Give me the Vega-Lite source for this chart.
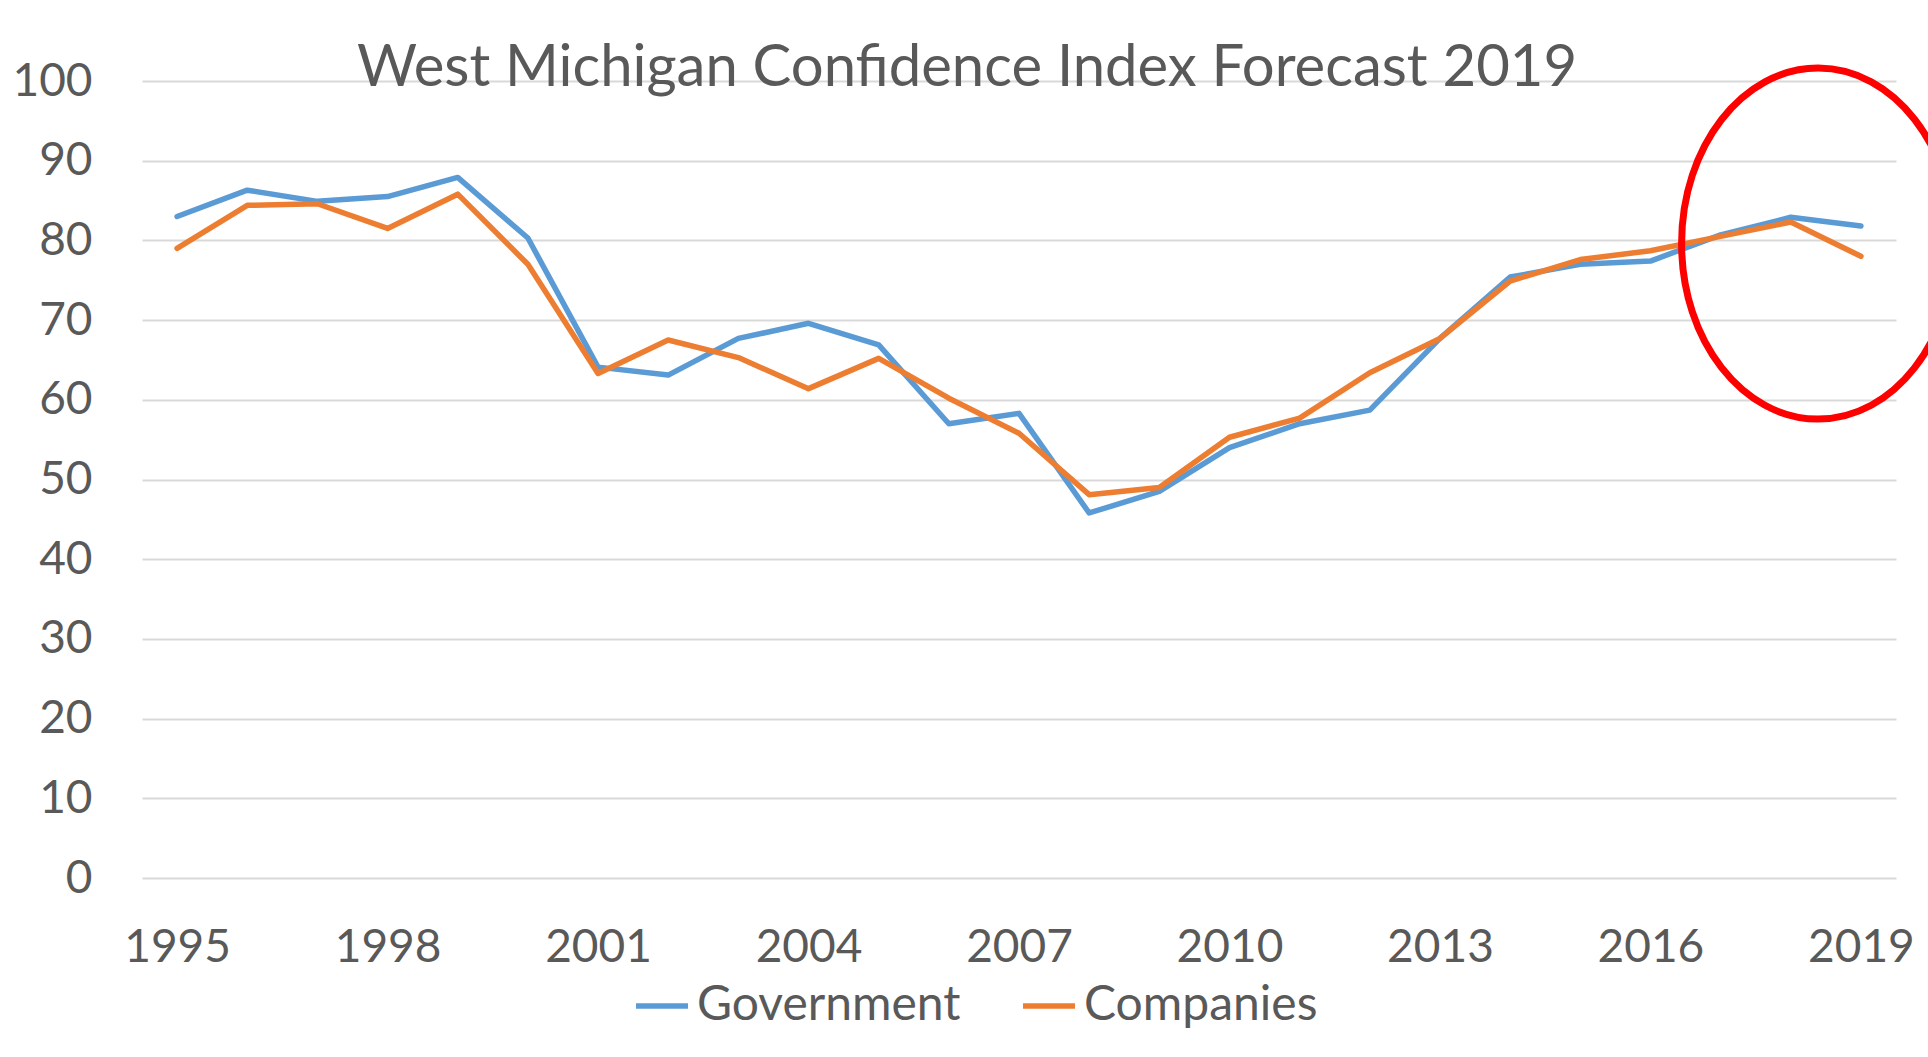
{
  "$schema": "https://vega.github.io/schema/vega-lite/v6.json",
  "autosize": {"type": "none"},
  "width": 1754,
  "height": 797,
  "padding": {"left": 142, "top": 81, "right": 32, "bottom": 179},
  "background": "#FFFFFF",
  "title": {
    "text": "West Michigan Confidence Index Forecast 2019",
    "font": "Lato",
    "fontSize": 58,
    "fontWeight": "normal",
    "color": "#595959",
    "anchor": "middle",
    "frame": "group",
    "baseline": "alphabetic",
    "offset": 0,
    "dx": -52,
    "dy": 90
  },
  "datasets": {
    "series": [
      {"year": 1995, "series": "Government", "value": 83.0},
      {"year": 1996, "series": "Government", "value": 86.3},
      {"year": 1997, "series": "Government", "value": 84.9},
      {"year": 1998, "series": "Government", "value": 85.5},
      {"year": 1999, "series": "Government", "value": 87.9},
      {"year": 2000, "series": "Government", "value": 80.3},
      {"year": 2001, "series": "Government", "value": 64.1},
      {"year": 2002, "series": "Government", "value": 63.1},
      {"year": 2003, "series": "Government", "value": 67.7},
      {"year": 2004, "series": "Government", "value": 69.6},
      {"year": 2005, "series": "Government", "value": 66.9},
      {"year": 2006, "series": "Government", "value": 57.0},
      {"year": 2007, "series": "Government", "value": 58.3},
      {"year": 2008, "series": "Government", "value": 45.8},
      {"year": 2009, "series": "Government", "value": 48.5},
      {"year": 2010, "series": "Government", "value": 54.0},
      {"year": 2011, "series": "Government", "value": 57.0},
      {"year": 2012, "series": "Government", "value": 58.7},
      {"year": 2013, "series": "Government", "value": 67.7},
      {"year": 2014, "series": "Government", "value": 75.4},
      {"year": 2015, "series": "Government", "value": 77.0},
      {"year": 2016, "series": "Government", "value": 77.4},
      {"year": 2017, "series": "Government", "value": 80.7},
      {"year": 2018, "series": "Government", "value": 82.9},
      {"year": 2019, "series": "Government", "value": 81.8},
      {"year": 1995, "series": "Companies", "value": 79.0},
      {"year": 1996, "series": "Companies", "value": 84.4},
      {"year": 1997, "series": "Companies", "value": 84.6},
      {"year": 1998, "series": "Companies", "value": 81.5},
      {"year": 1999, "series": "Companies", "value": 85.8},
      {"year": 2000, "series": "Companies", "value": 77.0},
      {"year": 2001, "series": "Companies", "value": 63.3},
      {"year": 2002, "series": "Companies", "value": 67.5},
      {"year": 2003, "series": "Companies", "value": 65.3},
      {"year": 2004, "series": "Companies", "value": 61.4},
      {"year": 2005, "series": "Companies", "value": 65.2},
      {"year": 2006, "series": "Companies", "value": 60.2},
      {"year": 2007, "series": "Companies", "value": 55.8},
      {"year": 2008, "series": "Companies", "value": 48.1},
      {"year": 2009, "series": "Companies", "value": 49.0},
      {"year": 2010, "series": "Companies", "value": 55.3},
      {"year": 2011, "series": "Companies", "value": 57.7},
      {"year": 2012, "series": "Companies", "value": 63.4},
      {"year": 2013, "series": "Companies", "value": 67.7},
      {"year": 2014, "series": "Companies", "value": 74.9},
      {"year": 2015, "series": "Companies", "value": 77.6},
      {"year": 2016, "series": "Companies", "value": 78.7},
      {"year": 2017, "series": "Companies", "value": 80.5},
      {"year": 2018, "series": "Companies", "value": 82.3},
      {"year": 2019, "series": "Companies", "value": 78.0}
    ],
    "highlight": [
      {"year": 2018.39, "value": 79.6}
    ]
  },
  "config": {
    "font": "Lato",
    "view": {"stroke": null},
    "axis": {
      "labelFont": "Lato",
      "labelFontSize": 46,
      "labelColor": "#595959",
      "title": null,
      "ticks": false,
      "domain": false
    }
  },
  "layer": [
    {
      "data": {"name": "series"},
      "mark": {"type": "line", "strokeWidth": 5.5, "strokeCap": "round", "strokeJoin": "round", "clip": false},
      "encoding": {
        "x": {
          "field": "year",
          "type": "quantitative",
          "scale": {"domain": [1994.5, 2019.5], "nice": false, "zero": false},
          "axis": {
            "values": [1995, 1998, 2001, 2004, 2007, 2010, 2013, 2016, 2019],
            "format": "d",
            "grid": false,
            "labelPadding": 47,
            "labelFlush": false,
            "labelOverlap": false
          }
        },
        "y": {
          "field": "value",
          "type": "quantitative",
          "scale": {"domain": [0, 100], "nice": false},
          "axis": {
            "values": [0, 10, 20, 30, 40, 50, 60, 70, 80, 90, 100],
            "grid": true,
            "gridColor": "#D9D9D9",
            "gridWidth": 2,
            "labelPadding": 50
          }
        },
        "color": {
          "field": "series",
          "type": "nominal",
          "scale": {"domain": ["Government", "Companies"], "range": ["#5B9BD5", "#ED7D31"]},
          "legend": {
            "title": null,
            "orient": "none",
            "direction": "horizontal",
            "legendX": 491,
            "legendY": 896,
            "padding": 0,
            "labelFont": "Lato",
            "labelFontSize": 48,
            "labelColor": "#595959",
            "labelLimit": 0,
            "labelOffset": 6,
            "columnPadding": 51,
            "symbolType": "stroke",
            "symbolSize": 2704,
            "symbolStrokeWidth": 5.5
          }
        },
        "order": {"field": "year", "type": "quantitative"}
      }
    },
    {
      "data": {"name": "highlight"},
      "mark": {
        "type": "point",
        "shape": "M -0.778 0 A 0.778 1 0 1 0 0.778 0 A 0.778 1 0 1 0 -0.778 0 Z",
        "size": 123201,
        "filled": false,
        "stroke": "#FF0000",
        "strokeWidth": 7,
        "opacity": 1,
        "clip": false
      },
      "encoding": {
        "x": {"field": "year", "type": "quantitative"},
        "y": {"field": "value", "type": "quantitative"}
      }
    }
  ]
}
